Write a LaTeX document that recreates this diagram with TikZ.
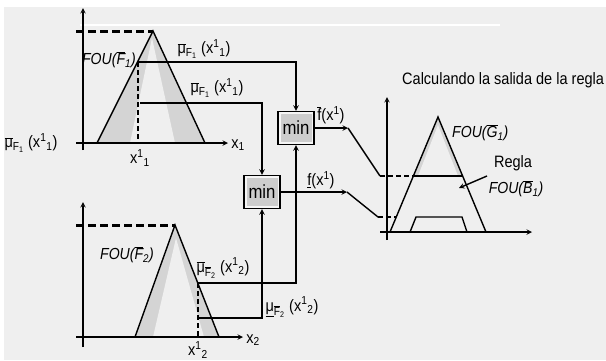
\documentclass[tikz,border=0pt]{standalone}
\usepackage{fontspec}
\setmainfont{Liberation Sans}[FakeStretch=0.88]
\usetikzlibrary{arrows,positioning,calc}
\definecolor{bggray}{RGB}{239,239,239}
\definecolor{fougray}{RGB}{212,212,212}
\definecolor{boxgray}{RGB}{205,205,205}
\newcommand{\ovl}[1]{$\overline{\mbox{#1}}$}
\newcommand{\mubar}[1]{\ovl{μ}\textsubscript{#1}}
\newcommand{\xsup}[1]{x\textsuperscript{1}\textsubscript{#1}}

\begin{document}
\begin{tikzpicture}[x=1pt, y=-1pt,
    line/.style={line width=1.4pt},
    arrow/.style={->, line width=1.4pt, >=stealth},
    level/.style={line width=1.4pt, dash pattern=on 5pt off 3pt},
    peak/.style={line width=3pt, dash pattern=on 8pt off 4pt},
    minbox/.style={draw, line width=1.4pt, fill=boxgray, minimum width=36pt, minimum height=33pt, inner sep=0pt,
        font=\fontsize{19}{21}\selectfont,
        path picture={\draw[white!80!boxgray, line width=5pt] (path picture bounding box.south west) rectangle (path picture bounding box.north east);}},
    lbl/.style={font=\fontsize{16.5}{18}\selectfont, inner sep=1pt},
    fou/.style={font=\fontsize{16}{18}\selectfont\itshape, inner sep=1pt}
]
    \useasboundingbox (0,0) rectangle (606,360);
    \fill[white] (0,0) rectangle (606,360);
    \fill[bggray] (4,7) rectangle (606,360);
    \draw[white, line width=1.5pt] (80,25) -- (500,25);

    % Antecedent 1
    \fill[fougray] (97,143) -- (153,31) -- (205,143) -- cycle;
    \fill[bggray] (130,143) -- (152,38) -- (175,143) -- cycle;
    \draw[line] (97,143) -- (153,31) -- (205,143);
    \draw[arrow] (76,143) -- (228,143);
    \draw[arrow] (83,150) -- (83,8);
    \draw[peak] (76,31) -- (153,31);
    \draw[level] (138,62) -- (138,143);
    \node[fou, anchor=east] (fou1) at (137,60) {FOU(\ovl{F}\textsubscript{1})};
    \node[lbl] (mu1up) at (204,49) {\mubar{F\textsubscript{1}} (\xsup{1})};
    \node[lbl] (mu1lo) at (217,88) {\mubar{F\textsubscript{1}} (\xsup{1})};
    \node[lbl] (mu1left) at (31,143) {\mubar{F\textsubscript{1}} (\xsup{1})};
    \node[lbl] (ax1) at (238,145) {x\textsubscript{1}};
    \node[lbl] (xv1) at (140,158) {\xsup{1}};

    % Antecedent 2
    \fill[fougray] (135,337) -- (175,225) -- (219,337) -- cycle;
    \fill[bggray] (153,337) -- (176,238) -- (204,337) -- cycle;
    \draw[line] (135,337) -- (175,225) -- (219,337);
    \draw[arrow] (76,337) -- (243,337);
    \draw[arrow] (83,347) -- (83,202);
    \draw[peak] (76,225) -- (175,225);
    \draw[level] (198,283) -- (198,337);
    \node[fou] (fou2) at (127,255) {FOU(\ovl{F}\textsubscript{2})};
    \node[lbl] (mu2up) at (223,268) {\mubar{\ovl{F}\textsubscript{2}} (\xsup{2})};
    \node[lbl] (mu2lo) at (292,307) {\underline{μ}\textsubscript{\ovl{F}\textsubscript{2}} (\xsup{2})};
    \node[lbl] (ax2) at (253,340) {x\textsubscript{2}};
    \node[lbl] (xv2) at (198,350) {\xsup{2}};

    % min operators
    \node[minbox] (minup) at (296,128) {min};
    \node[minbox] (minlow) at (262,192) {min};

    \coordinate (up1) at (138,62);
    \coordinate (lo1) at (140,103);
    \coordinate (up2) at (198,283);
    \coordinate (lo2) at (199,318);
    \draw[arrow] (up1) -| (minup.north);
    \draw[arrow] (lo1) -| (minlow.north);
    \draw[arrow] (up2) -| (minup.south);
    \draw[arrow] (lo2) -| (minlow.south);

    % Firing interval
    \coordinate (fup) at (348,128);
    \coordinate (kup) at (380,176);
    \coordinate (eup) at (413.4,176);
    \coordinate (flo) at (347,192);
    \coordinate (klo) at (378,217);
    \coordinate (elo) at (396.3,217);
    \draw[arrow] (minup.east) -- (fup);
    \draw[line] (fup) -- (kup);
    \draw[level] (kup) -- (eup);
    \draw[arrow] (minlow.east) -- (flo);
    \draw[line] (flo) -- (klo);
    \draw[level] (klo) -- (elo);
    \node[lbl] (fbar) at (331,115) {\ovl{f}(x\textsuperscript{1})};
    \node[lbl] (fund) at (321,180) {\underline{f}(x\textsuperscript{1})};

    % Consequent
    \node[lbl, anchor=west] (title) at (401,80) {Calculando la salida de la regla};
    \fill[fougray] (eup) -- (438,117) -- (462.6,176) -- cycle;
    \fill[bggray] (418,176) -- (438,125) -- (458,176) -- cycle;
    \draw[arrow] (387,240) -- (387,97);
    \draw[arrow] (380,232) -- (532,232);
    \draw[line] (390,232) -- (438,117) -- (486,232);
    \draw[line] (eup) -- (462.6,176);
    \draw[line] (410,232) -- (416,217) -- (462,217) -- (467,232);
    \node[fou, anchor=west] (foug) at (451,133) {FOU(\ovl{G}\textsubscript{1})};
    \node[lbl] (regla) at (513,163) {Regla};
    \node[fou] (foub) at (516,189) {FOU(\ovl{B}\textsubscript{1})};
    \coordinate (rtail) at (487,176);
    \coordinate (rhead) at (459,188);
    \draw[arrow] (rtail) -- (rhead);
\end{tikzpicture}
\end{document}
